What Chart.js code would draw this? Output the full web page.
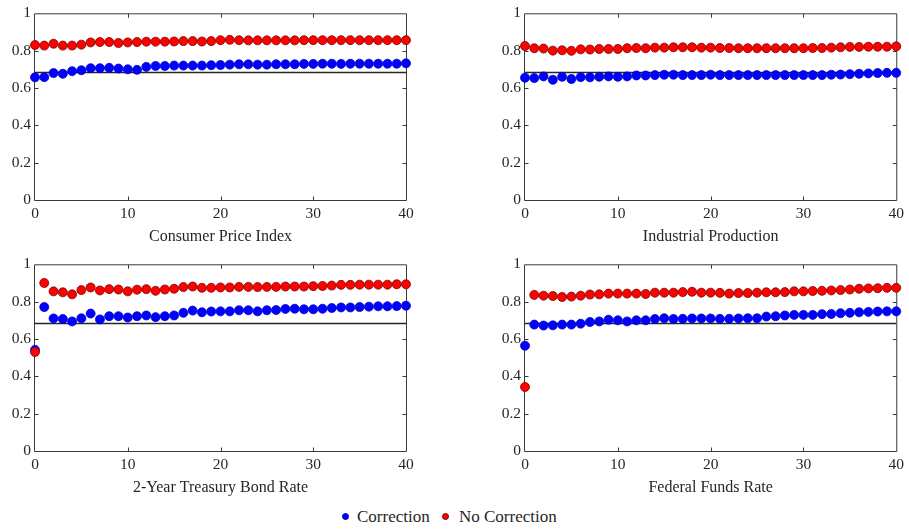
<!DOCTYPE html>
<html>
<head>
<meta charset="utf-8">
<script src="https://cdn.jsdelivr.net/npm/chart.js@4/dist/chart.umd.min.js"></script>
<style>
  html, body { margin: 0; padding: 0; background: #ffffff; }
  #wrap { position: relative; width: 909px; height: 529px; overflow: hidden; background: #ffffff; }
  canvas.panel { position: absolute; }
  .lg-dot { position: absolute; width: 7px; height: 7px; border-radius: 50%; box-sizing: border-box; }
  .lg-text { position: absolute; font-family: "Liberation Serif", "Times New Roman", serif; font-size: 17px; color: #262626; line-height: 20px; white-space: nowrap; }
</style>
</head>
<body>
<div id="wrap">
  <canvas id="pCPI" class="panel" width="455" height="250" style="left:0px;top:0px;"></canvas>
  <canvas id="pIP" class="panel" width="454" height="250" style="left:455px;top:0px;"></canvas>
  <canvas id="pTB" class="panel" width="455" height="250" style="left:0px;top:251px;"></canvas>
  <canvas id="pFF" class="panel" width="454" height="250" style="left:455px;top:251px;"></canvas>

  <span class="lg-dot" style="left:342px;top:513px;background:#0000ff;border:0.8px solid #0000c8;"></span>
  <span class="lg-text" style="left:357px;top:507px;">Correction</span>
  <span class="lg-dot" style="left:442px;top:513px;background:#ff0000;border:0.8px solid #7a0000;"></span>
  <span class="lg-text" style="left:459px;top:507px;">No Correction</span>
</div>

<script>
// Forecast horizons (x axis)
const horizons = [0, 1, 2, 3, 4, 5, 6, 7, 8, 9, 10, 11, 12, 13, 14, 15, 16, 17, 18, 19, 20,
                  21, 22, 23, 24, 25, 26, 27, 28, 29, 30, 31, 32, 33, 34, 35, 36, 37, 38, 39, 40];

// Reference level drawn as a horizontal line in every panel
const referenceLevel = 0.683;

const xTickValues = [0, 10, 20, 30, 40];
const yTickLabels = ['0', '0.2', '0.4', '0.6', '0.8', '1'];

// Consumer Price Index
const cpiCorrection = [0.657, 0.658, 0.680, 0.676, 0.690, 0.695, 0.706, 0.706, 0.708, 0.704, 0.700,
                       0.697, 0.713, 0.718, 0.718, 0.720, 0.720, 0.720, 0.720, 0.722, 0.723,
                       0.725, 0.727, 0.727, 0.725, 0.725, 0.727, 0.727, 0.727, 0.729, 0.729,
                       0.730, 0.730, 0.729, 0.730, 0.730, 0.730, 0.730, 0.730, 0.730, 0.732];
const cpiNoCorrection = [0.830, 0.827, 0.837, 0.827, 0.827, 0.832, 0.844, 0.846, 0.846, 0.841, 0.844,
                         0.846, 0.848, 0.848, 0.848, 0.849, 0.851, 0.851, 0.849, 0.851, 0.856,
                         0.858, 0.856, 0.855, 0.855, 0.855, 0.855, 0.855, 0.855, 0.856, 0.856,
                         0.856, 0.856, 0.856, 0.856, 0.856, 0.856, 0.856, 0.856, 0.856, 0.856];

// Industrial Production
const ipCorrection = [0.655, 0.653, 0.662, 0.644, 0.660, 0.648, 0.658, 0.657, 0.660, 0.662, 0.660,
                      0.662, 0.667, 0.667, 0.669, 0.671, 0.671, 0.669, 0.669, 0.669, 0.671,
                      0.669, 0.669, 0.669, 0.669, 0.669, 0.669, 0.669, 0.669, 0.669, 0.669,
                      0.669, 0.669, 0.671, 0.672, 0.674, 0.676, 0.678, 0.680, 0.681, 0.681];
const ipNoCorrection = [0.825, 0.813, 0.811, 0.800, 0.802, 0.799, 0.807, 0.806, 0.809, 0.809, 0.809,
                        0.813, 0.814, 0.813, 0.816, 0.816, 0.818, 0.818, 0.818, 0.816, 0.816,
                        0.814, 0.814, 0.813, 0.813, 0.813, 0.813, 0.813, 0.813, 0.813, 0.813,
                        0.814, 0.814, 0.816, 0.818, 0.820, 0.820, 0.821, 0.821, 0.821, 0.823];

// 2-Year Treasury Bond Rate
const tbCorrection = [0.542, 0.771, 0.710, 0.707, 0.694, 0.711, 0.736, 0.705, 0.722, 0.722, 0.715,
                      0.722, 0.726, 0.717, 0.722, 0.726, 0.740, 0.752, 0.743, 0.747, 0.748,
                      0.748, 0.754, 0.754, 0.748, 0.754, 0.755, 0.761, 0.762, 0.759, 0.759,
                      0.762, 0.766, 0.769, 0.769, 0.771, 0.773, 0.775, 0.775, 0.776, 0.778];
const tbNoCorrection = [0.530, 0.900, 0.855, 0.850, 0.839, 0.862, 0.876, 0.860, 0.867, 0.865, 0.855,
                        0.864, 0.867, 0.858, 0.865, 0.869, 0.878, 0.881, 0.874, 0.874, 0.876,
                        0.876, 0.879, 0.879, 0.878, 0.879, 0.879, 0.881, 0.881, 0.881, 0.883,
                        0.884, 0.886, 0.890, 0.890, 0.891, 0.891, 0.891, 0.891, 0.893, 0.893];

// Federal Funds Rate
const ffCorrection = [0.564, 0.677, 0.672, 0.673, 0.677, 0.677, 0.682, 0.691, 0.694, 0.703, 0.700,
                      0.694, 0.700, 0.700, 0.707, 0.711, 0.707, 0.708, 0.710, 0.710, 0.710,
                      0.708, 0.708, 0.710, 0.711, 0.711, 0.720, 0.722, 0.726, 0.729, 0.729,
                      0.729, 0.733, 0.734, 0.738, 0.740, 0.743, 0.745, 0.747, 0.748, 0.748];
const ffNoCorrection = [0.343, 0.836, 0.832, 0.830, 0.825, 0.827, 0.832, 0.838, 0.839, 0.843, 0.843,
                        0.843, 0.843, 0.841, 0.848, 0.848, 0.848, 0.851, 0.853, 0.848, 0.848,
                        0.847, 0.843, 0.846, 0.846, 0.848, 0.850, 0.850, 0.851, 0.855, 0.855,
                        0.857, 0.858, 0.860, 0.862, 0.865, 0.869, 0.871, 0.872, 0.874, 0.874];

const TEXT = '#262626';
const AXIS = '#3a3a3a';
const FONT = '"Liberation Serif", "Times New Roman", serif';

// Axes box with inward tick marks on all four sides, drawn under the markers
const axesBox = {
  id: 'axesBox',
  beforeDatasetsDraw(chart) {
    const { ctx, chartArea: a, scales } = chart;
    const L = a.left - 0.5, R = a.right + 0.5, T = a.top + 0.5, B = a.bottom + 0.5;
    const tick = 4;
    ctx.save();
    ctx.strokeStyle = AXIS;
    ctx.lineWidth = 1;
    ctx.beginPath();
    ctx.rect(L, T, R - L, B - T);
    scales.x.ticks.forEach(t => {
      const px = Math.round(scales.x.getPixelForValue(t.value)) + 0.5;
      if (px <= L + 1 || px >= R - 1) return;
      ctx.moveTo(px, B); ctx.lineTo(px, B - tick);
      ctx.moveTo(px, T); ctx.lineTo(px, T + tick);
    });
    scales.y.ticks.forEach(t => {
      const py = Math.round(scales.y.getPixelForValue(t.value)) + 0.5;
      if (py <= T + 1 || py >= B - 1) return;
      ctx.moveTo(L, py); ctx.lineTo(L + tick, py);
      ctx.moveTo(R, py); ctx.lineTo(R - tick, py);
    });
    ctx.stroke();
    ctx.restore();
  }
};

function points(values) {
  return horizons.map((h, i) => ({ x: h, y: values[i] }));
}

function makePanel(id, title, corr, noCorr, pad) {
  const ctx = document.getElementById(id);
  return new Chart(ctx, {
    type: 'scatter',
    data: {
      datasets: [
        {
          label: 'No Correction',
          data: points(noCorr),
          backgroundColor: '#ff0000',
          borderColor: '#7a0000',
          borderWidth: 0.8,
          pointRadius: 4.5,
          order: 1,
          clip: false
        },
        {
          label: 'Correction',
          data: points(corr),
          backgroundColor: '#0000ff',
          borderColor: '#0000c8',
          borderWidth: 0.8,
          pointRadius: 4.5,
          order: 2,
          clip: false
        },
        {
          type: 'line',
          label: 'reference',
          data: [{ x: horizons[0], y: referenceLevel }, { x: horizons[horizons.length - 1], y: referenceLevel }],
          borderColor: '#262626',
          borderWidth: 1.6,
          pointRadius: 0,
          fill: false,
          order: 3
        }
      ]
    },
    options: {
      responsive: false,
      animation: false,
      devicePixelRatio: 1,
      events: [],
      layout: { padding: pad },
      plugins: { legend: { display: false }, tooltip: { enabled: false } },
      scales: {
        x: {
          type: 'linear',
          min: 0,
          max: 40,
          afterBuildTicks(s) { s.ticks = xTickValues.map(v => ({ value: v })); },
          ticks: { padding: 5, color: TEXT, font: { family: FONT, size: 15.5 }, maxRotation: 0 },
          grid: { display: false, drawTicks: false },
          border: { display: false },
          title: {
            display: true,
            text: title,
            color: TEXT,
            font: { family: FONT, size: 16 },
            padding: { top: 0, bottom: 4 }
          },
          afterFit(s) { s.height = 50; }
        },
        y: {
          type: 'linear',
          min: 0,
          max: 1,
          afterBuildTicks(s) { s.ticks = yTickLabels.map(l => ({ value: parseFloat(l) })); },
          ticks: {
            padding: 4,
            color: TEXT,
            font: { family: FONT, size: 15.5 },
            callback: (v, i) => yTickLabels[i]
          },
          grid: { display: false, drawTicks: false },
          border: { display: false },
          afterFit(s) { s.width = 35; }
        }
      }
    },
    plugins: [axesBox]
  });
}

makePanel('pCPI', 'Consumer Price Index', cpiCorrection, cpiNoCorrection,
          { top: 10, right: 49, bottom: 0, left: 0 });
makePanel('pIP', 'Industrial Production', ipCorrection, ipNoCorrection,
          { top: 10, right: 11, bottom: 0, left: 35 });
makePanel('pTB', '2-Year Treasury Bond Rate', tbCorrection, tbNoCorrection,
          { top: 9, right: 49, bottom: 0, left: 0 });
makePanel('pFF', 'Federal Funds Rate', ffCorrection, ffNoCorrection,
          { top: 9, right: 11, bottom: 0, left: 35 });
</script>
</body>
</html>
